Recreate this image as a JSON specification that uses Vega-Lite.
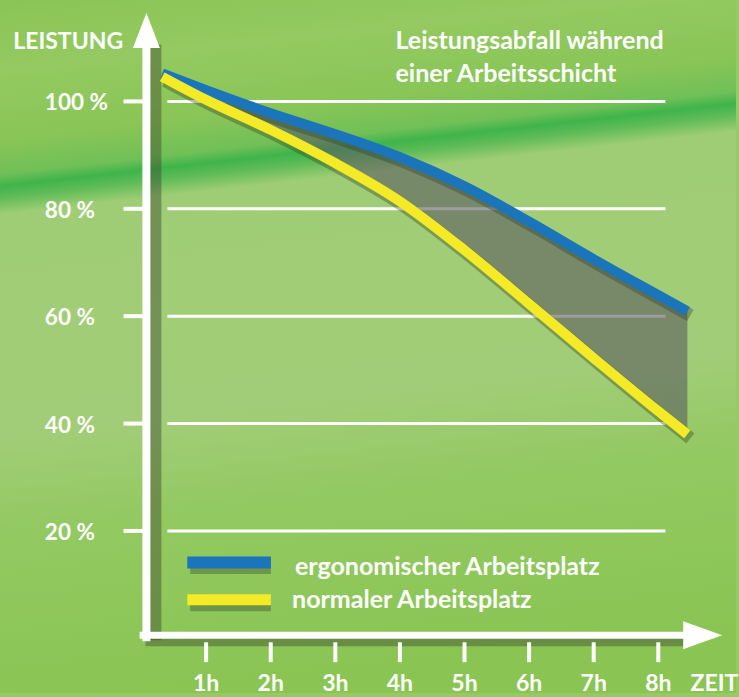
{
  "$schema": "https://vega.github.io/schema/vega-lite/v6.json",
  "width": 739,
  "height": 697,
  "autosize": {"type": "fit", "contains": "padding"},
  "padding": 0,
  "background": "#95c963",
  "config": {
    "view": {
      "stroke": null,
      "fill": {
        "gradient": "linear", "x1": 0, "y1": 0, "x2": 0.12, "y2": 1,
        "stops": [
          {"offset": 0, "color": "#8ac456"},
          {"offset": 0.1, "color": "#94ca61"},
          {"offset": 0.2, "color": "#89c557"},
          {"offset": 0.248, "color": "#70c057"},
          {"offset": 0.265, "color": "#3fb44b"},
          {"offset": 0.282, "color": "#60bc57"},
          {"offset": 0.305, "color": "#9fcd75"},
          {"offset": 0.62, "color": "#a2cd78"},
          {"offset": 0.75, "color": "#93c962"},
          {"offset": 1, "color": "#8ac554"}
        ]
      }
    },
    "text": {"font": "Lato", "fontWeight": "bold", "color": "white"}
  },
  "datasets": {
    "kurven": [
      {"h": 0.32, "ergo": 105.2, "normal": 104.6},
      {"h": 1, "ergo": 102.1, "normal": 100.3},
      {"h": 2, "ergo": 97.8, "normal": 94.7},
      {"h": 3, "ergo": 93.9, "normal": 88.5},
      {"h": 4, "ergo": 89.6, "normal": 81.4},
      {"h": 5, "ergo": 84.2, "normal": 72.3},
      {"h": 6, "ergo": 77.6, "normal": 62.3},
      {"h": 7, "ergo": 70.6, "normal": 52.2},
      {"h": 8, "ergo": 63.9, "normal": 42.3},
      {"h": 8.45, "ergo": 60.9, "normal": 38.0}
    ],
    "raster": [
      {"v": 20, "label": "20 %"},
      {"v": 40, "label": "40 %"},
      {"v": 60, "label": "60 %"},
      {"v": 80, "label": "80 %"},
      {"v": 100, "label": "100 %"}
    ],
    "stunden": [
      {"h": 1, "label": "1h"},
      {"h": 2, "label": "2h"},
      {"h": 3, "label": "3h"},
      {"h": 4, "label": "4h"},
      {"h": 5, "label": "5h"},
      {"h": 6, "label": "6h"},
      {"h": 7, "label": "7h"},
      {"h": 8, "label": "8h"}
    ]
  },
  "layer": [
    {
      "data": {"name": "raster"},
      "mark": {"type": "rule", "color": "white", "strokeWidth": 3},
      "encoding": {
        "y": {"field": "v", "type": "quantitative", "scale": {"domain": [-10.185, 118.89], "nice": false, "zero": false}, "axis": null},
        "x": {"datum": 0.4, "type": "quantitative", "scale": {"domain": [-2.191, 9.203], "nice": false, "zero": false}, "axis": null},
        "x2": {"datum": 8.11}
      }
    },
    {
      "data": {"name": "kurven"},
      "mark": {"type": "area", "interpolate": "monotone", "fill": "#5c5c60", "opacity": 0.6},
      "encoding": {
        "x": {"field": "h", "type": "quantitative"},
        "y": {"field": "ergo", "type": "quantitative"},
        "y2": {"field": "normal"}
      }
    },
    {
      "data": {"name": "raster"},
      "mark": {"type": "rule", "color": "white", "strokeWidth": 4},
      "encoding": {
        "y": {"field": "v", "type": "quantitative"},
        "x": {"datum": -0.278, "type": "quantitative"},
        "x2": {"datum": 0.03}
      }
    },
    {
      "data": {"name": "raster"},
      "mark": {"type": "text", "align": "left", "baseline": "alphabetic", "fontSize": 22.5, "yOffset": 9},
      "encoding": {
        "y": {"field": "v", "type": "quantitative"},
        "x": {"datum": -1.497, "type": "quantitative"},
        "text": {"field": "label"}
      }
    },
    {
      "data": {"values": [{}]},
      "mark": {"type": "rule", "color": "#3e4a2e", "opacity": 0.45, "strokeWidth": 12, "xOffset": 9, "yOffset": 5},
      "encoding": {
        "x": {"datum": 0.0755, "type": "quantitative"},
        "y": {"datum": 0.56, "type": "quantitative"},
        "y2": {"datum": 110.6}
      }
    },
    {
      "data": {"values": [{}]},
      "mark": {"type": "rule", "color": "#3e4a2e", "opacity": 0.45, "strokeWidth": 10, "xOffset": 4, "yOffset": 6},
      "encoding": {
        "y": {"datum": 0.56, "type": "quantitative"},
        "x": {"datum": 0.0, "type": "quantitative"},
        "x2": {"datum": 8.5}
      }
    },
    {
      "data": {"values": [{}]},
      "mark": {"type": "rule", "color": "white", "strokeWidth": 8},
      "encoding": {
        "x": {"datum": 0.0755, "type": "quantitative"},
        "y": {"datum": -0.56, "type": "quantitative"},
        "y2": {"datum": 110.6}
      }
    },
    {
      "data": {"values": [{}]},
      "mark": {"type": "rule", "color": "white", "strokeWidth": 7},
      "encoding": {
        "y": {"datum": 0.56, "type": "quantitative"},
        "x": {"datum": -0.03, "type": "quantitative"},
        "x2": {"datum": 8.45}
      }
    },
    {
      "data": {"values": [{}]},
      "mark": {"type": "point", "shape": "M0,-1L0.77,1L-0.77,1Z", "size": 1225, "filled": true, "color": "white", "opacity": 1},
      "encoding": {
        "x": {"datum": 0.0755, "type": "quantitative"},
        "y": {"datum": 113.2, "type": "quantitative"}
      }
    },
    {
      "data": {"values": [{}]},
      "mark": {"type": "point", "shape": "M1,0L-1,-0.72L-1,0.72Z", "size": 1521, "filled": true, "color": "white", "opacity": 1},
      "encoding": {
        "x": {"datum": 8.687, "type": "quantitative"},
        "y": {"datum": 0.56, "type": "quantitative"}
      }
    },
    {
      "data": {"name": "stunden"},
      "mark": {"type": "rule", "color": "white", "strokeWidth": 4},
      "encoding": {
        "x": {"field": "h", "type": "quantitative"},
        "y": {"datum": -0.74, "type": "quantitative"},
        "y2": {"datum": -4.44}
      }
    },
    {
      "data": {"name": "stunden"},
      "mark": {"type": "text", "align": "center", "baseline": "alphabetic", "fontSize": 23},
      "encoding": {
        "x": {"field": "h", "type": "quantitative"},
        "y": {"datum": -9.9, "type": "quantitative"},
        "text": {"field": "label"}
      }
    },
    {
      "data": {"values": [{"label": "ZEIT"}]},
      "mark": {"type": "text", "align": "left", "baseline": "alphabetic", "fontSize": 23},
      "encoding": {
        "x": {"datum": 8.5, "type": "quantitative"},
        "y": {"datum": -9.9, "type": "quantitative"},
        "text": {"field": "label"}
      }
    },
    {
      "data": {"name": "kurven"},
      "transform": [{"fold": ["ergo", "normal"], "as": ["serie", "wert"]}],
      "mark": {"type": "line", "interpolate": "monotone", "stroke": "#2f3a22", "opacity": 0.35, "strokeWidth": 13, "xOffset": 3, "yOffset": 4, "strokeCap": "butt"},
      "encoding": {
        "x": {"field": "h", "type": "quantitative"},
        "y": {"field": "wert", "type": "quantitative"},
        "detail": {"field": "serie"}
      }
    },
    {
      "data": {"name": "kurven"},
      "transform": [{"fold": ["ergo", "normal"], "as": ["serie", "wert"]}],
      "mark": {"type": "line", "interpolate": "monotone", "strokeWidth": 10, "strokeCap": "butt"},
      "encoding": {
        "x": {"field": "h", "type": "quantitative"},
        "y": {"field": "wert", "type": "quantitative"},
        "color": {"field": "serie", "type": "nominal", "scale": {"domain": ["ergo", "normal"], "range": ["#1b75bb", "#f4ea26"]}, "legend": null}
      }
    },
    {
      "data": {"values": [{}]},
      "mark": {"type": "rule", "color": "#3e4a2e", "opacity": 0.4, "strokeWidth": 13, "xOffset": 3, "yOffset": 5},
      "encoding": {
        "x": {"datum": 0.708, "type": "quantitative"},
        "x2": {"datum": 2.003},
        "y": {"datum": 14.1, "type": "quantitative"}
      }
    },
    {
      "data": {"values": [{}]},
      "mark": {"type": "rule", "color": "#3e4a2e", "opacity": 0.4, "strokeWidth": 13, "xOffset": 3, "yOffset": 5},
      "encoding": {
        "x": {"datum": 0.708, "type": "quantitative"},
        "x2": {"datum": 2.003},
        "y": {"datum": 7.2, "type": "quantitative"}
      }
    },
    {
      "data": {"values": [{}]},
      "mark": {"type": "rule", "color": "#1b75bb", "strokeWidth": 12},
      "encoding": {
        "x": {"datum": 0.708, "type": "quantitative"},
        "x2": {"datum": 2.003},
        "y": {"datum": 14.1, "type": "quantitative"}
      }
    },
    {
      "data": {"values": [{}]},
      "mark": {"type": "rule", "color": "#f4ea26", "strokeWidth": 11},
      "encoding": {
        "x": {"datum": 0.708, "type": "quantitative"},
        "x2": {"datum": 2.003},
        "y": {"datum": 7.2, "type": "quantitative"}
      }
    },
    {
      "data": {"values": [{"label": "ergonomischer Arbeitsplatz"}]},
      "mark": {"type": "text", "align": "left", "baseline": "alphabetic", "fontSize": 25},
      "encoding": {
        "x": {"datum": 2.375, "type": "quantitative"},
        "y": {"datum": 11.85, "type": "quantitative"},
        "text": {"field": "label"}
      }
    },
    {
      "data": {"values": [{"label": "normaler Arbeitsplatz"}]},
      "mark": {"type": "text", "align": "left", "baseline": "alphabetic", "fontSize": 25},
      "encoding": {
        "x": {"datum": 2.33, "type": "quantitative"},
        "y": {"datum": 5.56, "type": "quantitative"},
        "text": {"field": "label"}
      }
    },
    {
      "data": {"values": [{"label": "LEISTUNG"}]},
      "mark": {"type": "text", "align": "left", "baseline": "alphabetic", "fontSize": 23},
      "encoding": {
        "x": {"datum": -1.986, "type": "quantitative"},
        "y": {"datum": 109.7, "type": "quantitative"},
        "text": {"field": "label"}
      }
    },
    {
      "data": {"values": [{"z1": "Leistungsabfall während", "z2": "einer Arbeitsschicht"}]},
      "mark": {"type": "text", "align": "left", "baseline": "alphabetic", "fontSize": 25, "lineHeight": 32.4},
      "encoding": {
        "x": {"datum": 3.931, "type": "quantitative"},
        "y": {"datum": 109.7, "type": "quantitative"},
        "text": {"value": ["Leistungsabfall während", "einer Arbeitsschicht"]}
      }
    }
  ]
}
